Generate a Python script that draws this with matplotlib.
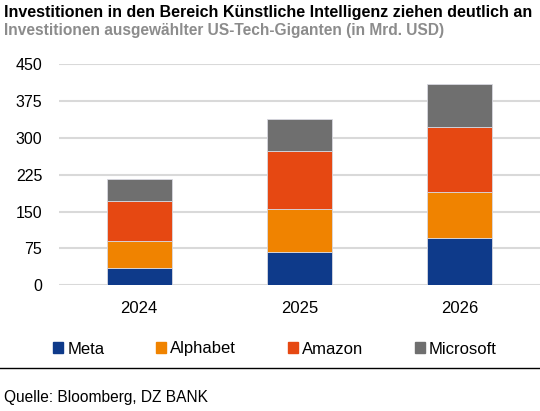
import matplotlib
matplotlib.use('Agg')
import matplotlib.pyplot as plt
import numpy as np
from matplotlib.lines import Line2D

plt.rcParams['font.family'] = ['Liberation Sans', 'DejaVu Sans']

# Data (Mrd. USD)
years = ['2024', '2025', '2026']
meta = [36, 68, 96]
alphabet = [54, 87, 94]
amazon = [82, 118, 131]
microsoft = [45, 65, 88]
series_names = ['Meta', 'Alphabet', 'Amazon', 'Microsoft']
colors = ['#0E3A8A', '#F08300', '#E64812', '#6F6F6F']
yticks = [0, 75, 150, 225, 300, 375, 450]

fig = plt.figure(figsize=(5.4, 4.11), dpi=100)
ax = fig.add_axes([59 / 540, 1 - 285.3 / 411, 1 - 59 / 540, (285.3 - 64) / 411])

x = np.arange(len(years))
bottom = np.zeros(len(years))
for name, vals, c in zip(series_names, [meta, alphabet, amazon, microsoft], colors):
    ax.bar(x, vals, width=0.405, bottom=bottom, color=c, edgecolor='#D8D8E0',
           linewidth=0.6, label=name, zorder=3)
    bottom += np.array(vals)

ax.set_xlim(-0.5, 2.5)
ax.set_ylim(0, 450)
ax.set_yticks(yticks)
ax.set_yticklabels([str(t) for t in yticks], fontsize=11.5)
ax.set_xticks(x)
ax.set_xticklabels(years, fontsize=12)
ax.tick_params(axis='both', length=0)
ax.tick_params(axis='y', pad=12)
ax.tick_params(axis='x', pad=11)
ax.grid(axis='y', color='#D9D9D9', linewidth=1.5, zorder=0)
for s in ax.spines.values():
    s.set_visible(False)

fig.text(4 / 540, 1 - 12 / 411, 'Investitionen in den Bereich Künstliche Intelligenz ziehen deutlich an',
         fontsize=11.5, fontweight='bold', color='black', va='center', ha='left')
fig.text(4 / 540, 1 - 30 / 411, 'Investitionen ausgewählter US-Tech-Giganten (in Mrd. USD)',
         fontsize=11.2, fontweight='bold', color='#8C8C8C', va='center', ha='left')

handles = [plt.Rectangle((0, 0), 1, 1, color=c) for c in colors]
fig.legend(handles, series_names, loc='center', bbox_to_anchor=(275 / 540, 1 - 349 / 411),
           ncol=4, frameon=False, fontsize=12, handlelength=0.6, handleheight=0.6,
           handletextpad=0.25, columnspacing=3.1)

fig.add_artist(Line2D([0, 1], [1 - 368.3 / 411, 1 - 368.3 / 411], color='black',
                      linewidth=1, transform=fig.transFigure))
fig.text(4 / 540, 1 - 397 / 411, 'Quelle: Bloomberg, DZ BANK', fontsize=11.2,
         color='black', va='center', ha='left')

fig.savefig('out.png', dpi=100)
